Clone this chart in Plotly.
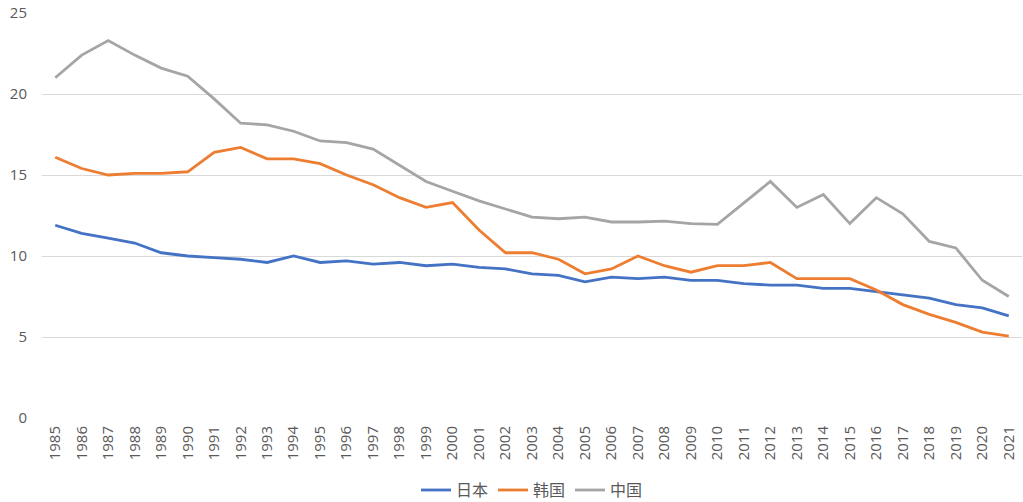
import plotly.graph_objects as go

years = list(range(1985, 2022))
japan = [11.9, 11.4, 11.1, 10.8, 10.2, 10.0, 9.9, 9.8, 9.6, 10.0, 9.6, 9.7, 9.5, 9.6, 9.4, 9.5,
         9.3, 9.2, 8.9, 8.8, 8.4, 8.7, 8.6, 8.7, 8.5, 8.5, 8.3, 8.2, 8.2, 8.0, 8.0, 7.8, 7.6,
         7.4, 7.0, 6.8, 6.3]
korea = [16.1, 15.4, 15.0, 15.1, 15.1, 15.2, 16.4, 16.7, 16.0, 16.0, 15.7, 15.0, 14.4, 13.6,
         13.0, 13.3, 11.6, 10.2, 10.2, 9.8, 8.9, 9.2, 10.0, 9.4, 9.0, 9.4, 9.4, 9.6, 8.6, 8.6,
         8.6, 7.9, 7.0, 6.4, 5.9, 5.3, 5.05]
china = [21.0, 22.4, 23.3, 22.4, 21.6, 21.1, 19.7, 18.2, 18.1, 17.7, 17.1, 17.0, 16.6, 15.6,
         14.6, 14.0, 13.4, 12.9, 12.4, 12.3, 12.4, 12.1, 12.1, 12.15, 12.0, 11.95, 13.3, 14.6,
         13.0, 13.8, 12.0, 13.6, 12.6, 10.9, 10.5, 8.5, 7.5]
series_names = ["日本", "韩国", "中国"]
colors = ["#4472C4", "#ED7D31", "#A5A5A5"]
yticks = [0, 5, 10, 15, 20, 25]

fig = go.Figure()
for name, vals, c in zip(series_names, [japan, korea, china], colors):
    fig.add_trace(go.Scatter(x=years, y=vals, mode="lines", name=name,
                             line=dict(color=c, width=2.8)))

tickfont = dict(family="Open Sans, DejaVu Sans, sans-serif", size=15, color="#595959")
fig.update_layout(
    width=1023, height=502,
    margin=dict(l=42, r=1, t=13, b=84, autoexpand=False),
    plot_bgcolor="white", paper_bgcolor="white",
    showlegend=True,
    legend=dict(orientation="h", x=0.5, xanchor="center", y=-0.178, yanchor="middle",
                font=dict(family="Noto Sans CJK SC", size=16, color="#595959"),
                itemwidth=30, tracegroupgap=0),
    xaxis=dict(range=[1984.5, 2021.5], tickvals=years, ticktext=[str(y) for y in years],
               tickangle=-90, tickfont=tickfont, showgrid=False, zeroline=False,
               showline=False, ticks="", automargin=False, ticklabelstandoff=4),
    yaxis=dict(range=[0, 25], tickvals=yticks, tickfont=tickfont, showgrid=True,
               gridcolor="#D9D9D9", gridwidth=1, zeroline=False, showline=False,
               ticks="", ticklabelstandoff=14, automargin=False),
)
fig.write_html("out.html", config={"displayModeBar": False},
               post_script="document.body.style.margin='0';document.body.style.overflow='hidden';")
